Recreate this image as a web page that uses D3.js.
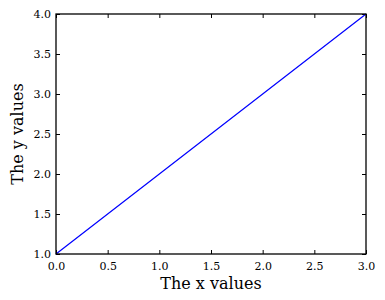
<!DOCTYPE html>
<html>
<head>
<meta charset="utf-8">
<script src="https://cdn.jsdelivr.net/npm/d3@7"></script>
<style>
  body { margin: 0; background: #fff; }
  svg { display: block; }
  .tick text { font-family: "DejaVu Serif", serif; font-size: 11px; fill: #000; }
  .axis-label { font-family: "DejaVu Serif", serif; font-size: 16px; fill: #000; }
</style>
</head>
<body>
<div id="chart"></div>
<script>
var width = 385
var height = 300

// data
const xVals = [0, 1, 2, 3];
const yVals = [1, 2, 3, 4];
const xTicks = [0, 0.5, 1, 1.5, 2, 2.5, 3];
const yTicks = [1, 1.5, 2, 2.5, 3, 3.5, 4];

const margin = {top: 14, right: 19, bottom: 46, left: 56};
const innerWidth = width - margin.left - margin.right;
const innerHeight = height - margin.top - margin.bottom;

const svg = d3.select("#chart").append("svg")
    .attr("width", width)
    .attr("height", height);

const g = svg.append("g")
    .attr("transform", `translate(${margin.left}, ${margin.top})`);

const xScale = d3.scaleLinear().domain([0, 3]).range([0, innerWidth]);
const yScale = d3.scaleLinear().domain([1, 4]).range([innerHeight, 0]);

const fmt = d3.format(".1f");

// bottom axis with labels
const xAxisG = g.append("g")
    .attr("transform", `translate(0, ${innerHeight})`)
    .call(d3.axisBottom(xScale).tickValues(xTicks).tickFormat(fmt).tickSizeInner(-4).tickSizeOuter(0).tickPadding(8));
// left axis with labels
const yAxisG = g.append("g")
    .call(d3.axisLeft(yScale).tickValues(yTicks).tickFormat(fmt).tickSizeInner(-4).tickSizeOuter(0).tickPadding(5));
// top and right: ticks only
const topG = g.append("g")
    .call(d3.axisTop(xScale).tickValues(xTicks).tickSizeInner(-4).tickSizeOuter(0));
const rightG = g.append("g")
    .attr("transform", `translate(${innerWidth}, 0)`)
    .call(d3.axisRight(yScale).tickValues(yTicks).tickSizeInner(-4).tickSizeOuter(0));
topG.selectAll("text").remove();
rightG.selectAll("text").remove();

[xAxisG, yAxisG, topG, rightG].forEach(a => {
    a.select(".domain").remove();
    a.selectAll(".tick line").attr("stroke", "#000").attr("stroke-width", 1);
});

// the line
const line = d3.line()
    .x((d, i) => xScale(xVals[i]))
    .y(d => yScale(d));

g.append("path")
    .datum(yVals)
    .attr("d", line)
    .attr("fill", "none")
    .attr("stroke", "#0000ff")
    .attr("stroke-width", 1.2);

// frame
g.append("rect")
    .attr("x", 0)
    .attr("y", 0)
    .attr("width", innerWidth)
    .attr("height", innerHeight)
    .attr("fill", "none")
    .attr("stroke", "#000")
    .attr("stroke-width", 1.3);

svg.append("text")
    .attr("class", "axis-label")
    .attr("x", margin.left + innerWidth / 2)
    .attr("y", 289)
    .attr("text-anchor", "middle")
    .text("The x values");

svg.append("text")
    .attr("class", "axis-label")
    .attr("transform", `translate(23, ${margin.top + innerHeight / 2}) rotate(-90)`)
    .attr("text-anchor", "middle")
    .text("The y values");
</script>
</body>
</html>
